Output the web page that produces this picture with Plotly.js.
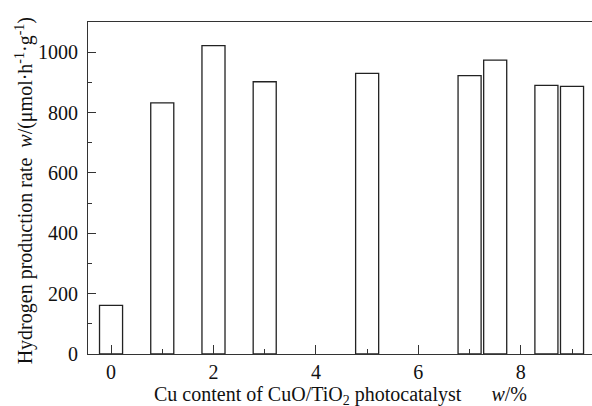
<!DOCTYPE html>
<html>
<head>
<meta charset="utf-8">
<script src="https://cdn.plot.ly/plotly-3.0.1.min.js"></script>
<style>html,body{margin:0;padding:0;background:#fff;}#chart{width:592px;height:406px;}</style>
</head>
<body>
<div id="chart"></div>
<script>
// Cu content (w/%) and hydrogen production rate (μmol·h⁻¹·g⁻¹)
const cuContent = [0, 1, 2, 3, 5, 7, 7.5, 8.5, 9];
const h2Rate = [161, 832, 1022, 902, 930, 922, 974, 890, 887];
const xTickVals = [0, 2, 4, 6, 8];
const yTickVals = [0, 200, 400, 600, 800, 1000];

const font = "'Liberation Serif', serif";
const axisColor = '#333';

const trace = {
  type: 'bar',
  x: cuContent,
  y: h2Rate,
  width: 0.45,
  marker: {color: '#ffffff', line: {color: '#222', width: 1.3}},
  hoverinfo: 'x+y'
};

const layout = {
  width: 592, height: 406,
  margin: {l: 88, r: 0, t: 22, b: 52},
  paper_bgcolor: '#fff', plot_bgcolor: '#fff',
  showlegend: false,
  font: {family: font, size: 20, color: '#111'},
  xaxis: {
    range: [-0.45, 9.39],
    tickvals: xTickVals,
    ticktext: xTickVals.map(String),
    ticks: 'inside', ticklen: 9, tickwidth: 1, tickcolor: axisColor,
    minor: {dtick: 1, tick0: 0, ticks: 'inside', ticklen: 5, tickwidth: 1, tickcolor: axisColor},
    showline: true, linecolor: axisColor, linewidth: 1, mirror: true,
    showgrid: false, zeroline: false,
    tickfont: {family: font, size: 20, color: '#111'}
  },
  yaxis: {
    range: [0, 1100],
    tickvals: yTickVals,
    ticktext: yTickVals.map(String),
    ticks: 'inside', ticklen: 8, tickwidth: 1, tickcolor: axisColor,
    minor: {dtick: 100, tick0: 0, ticks: 'inside', ticklen: 4, tickwidth: 1, tickcolor: axisColor},
    showline: true, linecolor: axisColor, linewidth: 1,
    showgrid: false, zeroline: false,
    ticklabelstandoff: 5,
    tickfont: {family: font, size: 20, color: '#111'}
  },
  annotations: [
    {
      xref: 'paper', yref: 'paper', x: 0.5, y: 0, yshift: -56,
      xanchor: 'center', yanchor: 'bottom', showarrow: false,
      text: 'Cu content of CuO/TiO<sub>2</sub> photocatalyst&nbsp;&nbsp;&nbsp;&nbsp;&nbsp;&nbsp;<i>w</i>/%',
      font: {family: font, size: 20, color: '#111'}
    },
    {
      xref: 'paper', yref: 'paper', x: 0, xshift: -64, y: 0.49,
      xanchor: 'center', yanchor: 'middle', showarrow: false, textangle: -90,
      text: 'Hydrogen production rate&nbsp;&nbsp;<i>w</i>/(μmol·h<sup>-1</sup>·g<sup>-1</sup>)',
      font: {family: font, size: 20, color: '#111'}
    }
  ]
};

Plotly.newPlot('chart', [trace], layout, {displayModeBar: false, staticPlot: true});
</script>
</body>
</html>
